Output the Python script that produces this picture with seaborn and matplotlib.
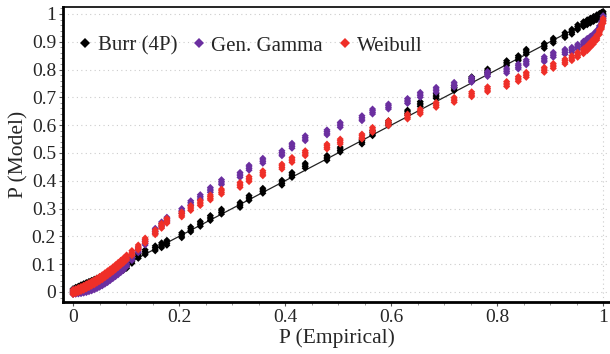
import numpy as np
import pandas as pd
import seaborn as sns
import matplotlib.pyplot as plt
from matplotlib.ticker import MultipleLocator, FuncFormatter

# empirical probabilities (stack centres, shared by all three fits)
p_emp = [0.000, 0.005, 0.010, 0.015, 0.020, 0.025, 0.030, 0.035, 0.040, 0.045,
         0.050, 0.055, 0.060, 0.065, 0.070, 0.075, 0.080, 0.085, 0.090, 0.095,
         0.101, 0.111, 0.123, 0.136, 0.155, 0.167, 0.177, 0.205, 0.222, 0.240,
         0.259, 0.280, 0.315, 0.332, 0.358, 0.394, 0.413, 0.438, 0.479, 0.504,
         0.545, 0.565, 0.595, 0.631, 0.655, 0.685, 0.719, 0.752, 0.782, 0.818,
         0.840, 0.855, 0.889, 0.906, 0.928, 0.941, 0.952, 0.963, 0.970, 0.976,
         0.982, 0.988, 0.993, 0.997, 1.000]

# model probabilities
burr = [0.003, 0.008, 0.012, 0.017, 0.021, 0.025, 0.029, 0.033, 0.037, 0.041,
        0.045, 0.049, 0.054, 0.058, 0.063, 0.067, 0.072, 0.077, 0.082, 0.087,
        0.094, 0.112, 0.130, 0.143, 0.157, 0.168, 0.177, 0.204, 0.225, 0.245,
        0.266, 0.289, 0.313, 0.338, 0.364, 0.393, 0.421, 0.454, 0.482, 0.512,
        0.541, 0.571, 0.607, 0.645, 0.676, 0.705, 0.733, 0.765, 0.793, 0.823,
        0.841, 0.864, 0.885, 0.904, 0.924, 0.936, 0.952, 0.963, 0.970, 0.976,
        0.982, 0.988, 0.993, 0.997, 1.000]
gen_gamma = [0.000, 0.001, 0.002, 0.003, 0.005, 0.007, 0.010, 0.013, 0.017, 0.021,
             0.026, 0.031, 0.037, 0.043, 0.050, 0.057, 0.064, 0.071, 0.079, 0.087,
             0.100, 0.122, 0.150, 0.178, 0.220, 0.243, 0.260, 0.291, 0.319, 0.341,
             0.367, 0.395, 0.421, 0.447, 0.472, 0.499, 0.526, 0.553, 0.574, 0.601,
             0.625, 0.649, 0.667, 0.687, 0.709, 0.727, 0.745, 0.763, 0.784, 0.796,
             0.811, 0.826, 0.837, 0.853, 0.864, 0.871, 0.882, 0.893, 0.903, 0.911,
             0.920, 0.932, 0.948, 0.965, 0.985]
weibull = [0.000, 0.003, 0.007, 0.011, 0.015, 0.020, 0.025, 0.030, 0.035, 0.041,
           0.047, 0.053, 0.060, 0.067, 0.074, 0.081, 0.089, 0.097, 0.105, 0.113,
           0.124, 0.140, 0.160, 0.185, 0.215, 0.238, 0.256, 0.279, 0.302, 0.320,
           0.340, 0.361, 0.385, 0.406, 0.427, 0.451, 0.475, 0.499, 0.523, 0.541,
           0.559, 0.583, 0.607, 0.631, 0.649, 0.673, 0.691, 0.711, 0.729, 0.748,
           0.766, 0.781, 0.799, 0.813, 0.829, 0.841, 0.853, 0.866, 0.877, 0.889,
           0.901, 0.915, 0.935, 0.955, 0.975]

models = ['Burr (4P)', 'Gen. Gamma', 'Weibull']
colors = ['black', '#6b2fa0', '#ef2f28']

# tied observations draw as short vertical stacks
stack = [-0.009, -0.003, 0.003, 0.009]

rows = []
for name, vals in zip(models, [burr, gen_gamma, weibull]):
    for x, y in zip(p_emp, vals):
        for d in stack:
            rows.append({'emp': x, 'model': y + d, 'dist': name})
df = pd.DataFrame(rows)

sns.set_style('white')
plt.rcParams['font.family'] = ['Liberation Serif', 'DejaVu Serif']

fig = plt.figure(figsize=(6.1, 3.54), dpi=100)
ax = fig.add_axes([63 / 610, 1 - 302 / 354, 547 / 610, 295 / 354])

ax.plot([0, 1], [0, 1], color='#222222', lw=0.9, zorder=1)
sns.scatterplot(data=df, x='emp', y='model', hue='dist', palette=colors,
                hue_order=models, marker='D', s=13, linewidth=0,
                ax=ax, zorder=2)

ax.set_xlim(-0.019, 1.013)
ax.set_ylim(-0.036, 1.025)
ax.xaxis.set_major_locator(MultipleLocator(0.2))
ax.xaxis.set_minor_locator(MultipleLocator(0.05))
ax.yaxis.set_major_locator(MultipleLocator(0.1))
ax.yaxis.set_minor_locator(MultipleLocator(0.02))
fmt = FuncFormatter(lambda v, p: ('%.1f' % v).rstrip('0').rstrip('.') if abs(v) > 1e-9 else '0')
ax.xaxis.set_major_formatter(fmt)
ax.yaxis.set_major_formatter(fmt)
ax.tick_params(axis='both', which='major', labelsize=14, length=3, width=0.8,
               direction='out', color='#555555', pad=2)
ax.tick_params(axis='both', which='minor', length=2, width=0.6, direction='out',
               color='#888888')
ax.tick_params(axis='x', bottom=True, which='both')
ax.tick_params(axis='y', left=True, which='both')

for y in np.arange(0.1, 1.01, 0.1):
    ax.axhline(y, color='#cccccc', lw=0.8, ls=(0, (1, 3)), zorder=0)
ax.axhline(0, color='#cccccc', lw=0.8, ls=(0, (1, 3)), zorder=0)
ax.axvline(1, color='#cccccc', lw=0.8, ls=(0, (1, 3)), zorder=0)

ax.spines['left'].set_linewidth(2)
ax.spines['bottom'].set_linewidth(2)
ax.spines['top'].set_linewidth(1.2)
ax.spines['right'].set_visible(False)
for s in ax.spines.values():
    s.set_color('black')

ax.set_xlabel('P (Empirical)', fontsize=15.5, labelpad=2)
ax.set_ylabel('P (Model)', fontsize=15.5, labelpad=2)

leg = ax.legend(loc='upper left', bbox_to_anchor=(-0.015, 0.965), ncol=3, frameon=False,
                fontsize=15, handletextpad=0.05, columnspacing=0.5,
                handlelength=1.1, markerscale=1.4)

fig.savefig('out.png', dpi=100)
